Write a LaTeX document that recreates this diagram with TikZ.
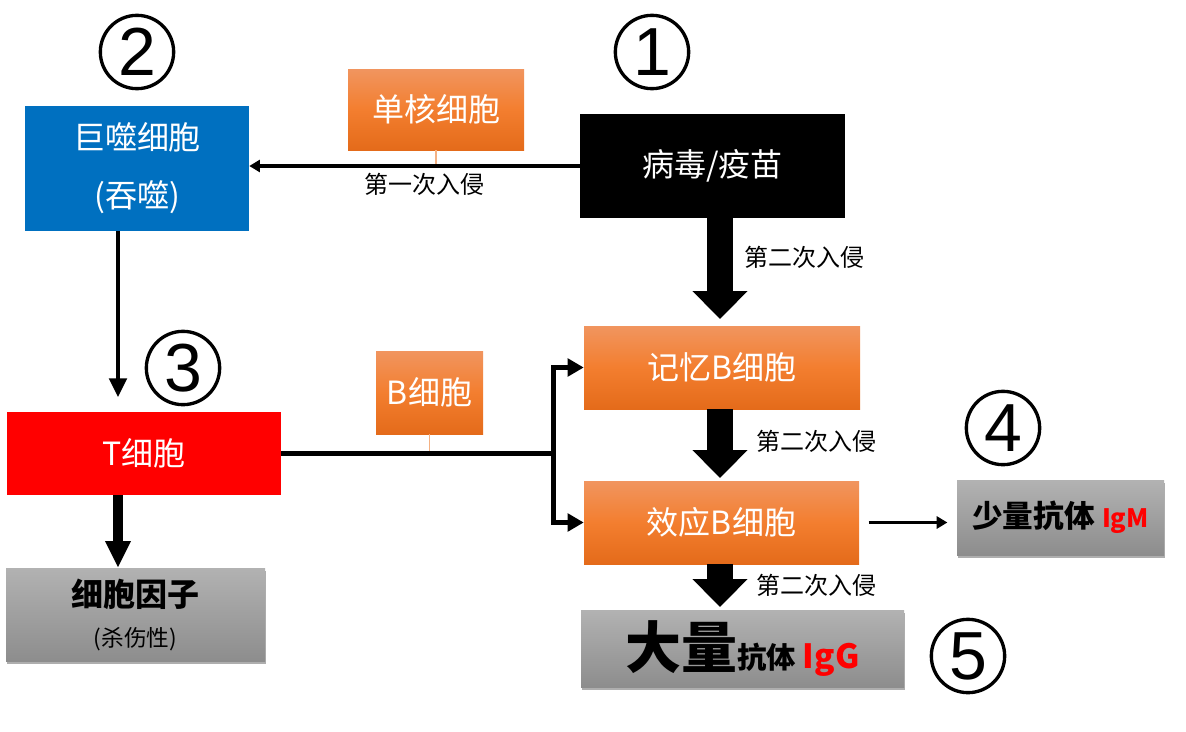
\documentclass[tikz,border=0pt]{standalone}
\usepackage{fontspec}
\setmainfont{Noto Sans CJK SC}
\newfontfamily\digfont{Liberation Sans}
\usetikzlibrary{arrows.meta,shadows,calc}
\definecolor{mblue}{HTML}{0070C0}
\definecolor{oTop}{HTML}{F1955F}
\definecolor{oMid}{HTML}{F37E2F}
\definecolor{oBot}{HTML}{E46B1A}
\definecolor{gTop}{HTML}{B2B2B2}
\definecolor{gBot}{HTML}{8D8D8D}
\definecolor{thinorange}{HTML}{F4B183}
\definecolor{abred}{HTML}{FF0000}
\tikzset{
  boxtext/.style={text=white, font=\fontsize{24}{28}\selectfont, inner sep=0pt, align=center},
  orangebox/.style={boxtext, top color=oTop, bottom color=oBot, middle color=oMid},
  graybox/.style={inner sep=0pt, align=center, top color=gTop, bottom color=gBot,
     drop shadow={shadow xshift=1pt, shadow yshift=-2pt, opacity=0.45, fill=black!70}},
  lbl/.style={font=\fontsize{18}{21}\selectfont, inner sep=0pt},
  num/.style={circle, draw, line width=2.5pt, minimum size=55pt, inner sep=0pt,
     font=\digfont\fontsize{51}{51}\selectfont},
  blockarrow/.style={line width=19.5pt, -{Triangle[width=40pt,length=21pt]}},
  thinarrow/.style={line width=3pt, -{Triangle[width=9pt,length=8pt]}},
  brancharrow/.style={line width=3.75pt, -{Triangle[width=13pt,length=12pt]}},
}
\begin{document}
\begin{tikzpicture}[x=0.75pt,y=-0.75pt]
\useasboundingbox (0,0) rectangle (1186,732);

% boxes
\node[boxtext, fill=mblue, minimum width=168pt, minimum height=93.75pt,
      font=\fontsize{24}{43}\selectfont] (mac) at (137,168) {巨噬细胞\\(吞噬)};
\node[orangebox, minimum width=132pt, minimum height=60.75pt] (mono) at (436,109.5) {单核细胞};
\node[boxtext, fill=black, minimum width=198.75pt, minimum height=78pt] (virus) at (712.5,166) {病毒/疫苗};
\node[orangebox, minimum width=207pt, minimum height=62.25pt] (mem) at (722,367.5) {记忆B细胞};
\node[orangebox, minimum width=206.25pt, minimum height=62.25pt] (eff) at (721.5,522.5) {效应B细胞};
\node[orangebox, minimum width=80.25pt, minimum height=62.25pt] (bcell) at (429.5,392.5) {B细胞};
\node[boxtext, fill=abred, minimum width=205.5pt, minimum height=62.25pt] (T) at (144,453.5) {T细胞};
\node[graybox, minimum width=194.25pt, minimum height=69.75pt, font=\fontsize{17}{30}\selectfont] (cyto) at (135.5,614.5)
  {{\bfseries\fontsize{24}{30}\selectfont 细胞因子}\\(杀伤性)};
\node[graybox, minimum width=155.25pt, minimum height=56.25pt] (igm) at (1060.5,517.5)
  {\bfseries\fontsize{23}{27}\selectfont 少量抗体 {\color{abred}\fontsize{19}{22}\selectfont IgM}};
\node[graybox, minimum width=242.25pt, minimum height=57.75pt] (igg) at (742.5,648.5)
  {\bfseries\fontsize{42}{46}\selectfont 大量{\fontsize{22}{26}\selectfont 抗体 {\color{abred}\fontsize{25}{28}\selectfont IgG}}};

% circled numbers
\node[num] (n1) at (652,52) {1};
\node[num] (n2) at (137,52) {2};
\node[num] (n3) at (183,368) {3};
\node[num] (n4) at (1003,428) {4};
\node[num] (n5) at (968,656) {5};

% labels
\node[lbl] (l1) at (424,184) {第一次入侵};
\node[lbl] (l2) at (804,257) {第二次入侵};
\node[lbl] (l3) at (816,441) {第二次入侵};
\node[lbl] (l4) at (816,585) {第二次入侵};

% connectors
\draw[thinorange, line width=0.8pt] (mono.south) -- (mono.south |- virus.west);
\draw[thinarrow] (virus.west) -- (virus.west -| mac.east);
\draw[line width=3pt, -{Triangle[width=13pt,length=14pt]}, shorten >=11pt]
  ($(mac.south)+(-19,0)$) -- ($(T.north)+(-26,0)$);
\draw[line width=7pt, -{Triangle[width=18pt,length=20pt]}]
  ($(T.south)+(-26,0)$) -- ($(cyto.north)+(-17.5,0)$);
\draw[blockarrow, shorten >=5pt] ($(virus.south)+(7.5,0)$) -- ($(mem.north)+(-2,0)$);
\draw[blockarrow, shorten >=2pt] ($(mem.south)+(-2,0)$) -- ($(eff.north)+(-1.5,0)$);
\draw[blockarrow, shorten >=2pt] ($(eff.south)+(-1.5,0)$) -- ($(igg.north)+(-22.5,0)$);
\draw[line width=2.3pt, -{Triangle[width=9pt,length=8pt]}, shorten <=7pt, shorten >=7pt]
  (eff.east) -- (eff.east -| igm.west);
\coordinate (br) at ($(T.east)+(272,0)$);
\draw[thinorange, line width=0.8pt] (bcell.south) -- (bcell.south |- T.east);
\draw[line width=3.75pt] (T.east) -- (br);
\draw[brancharrow] (br) |- (mem.west);
\draw[brancharrow] (br) |- (eff.west);
\end{tikzpicture}
\end{document}
